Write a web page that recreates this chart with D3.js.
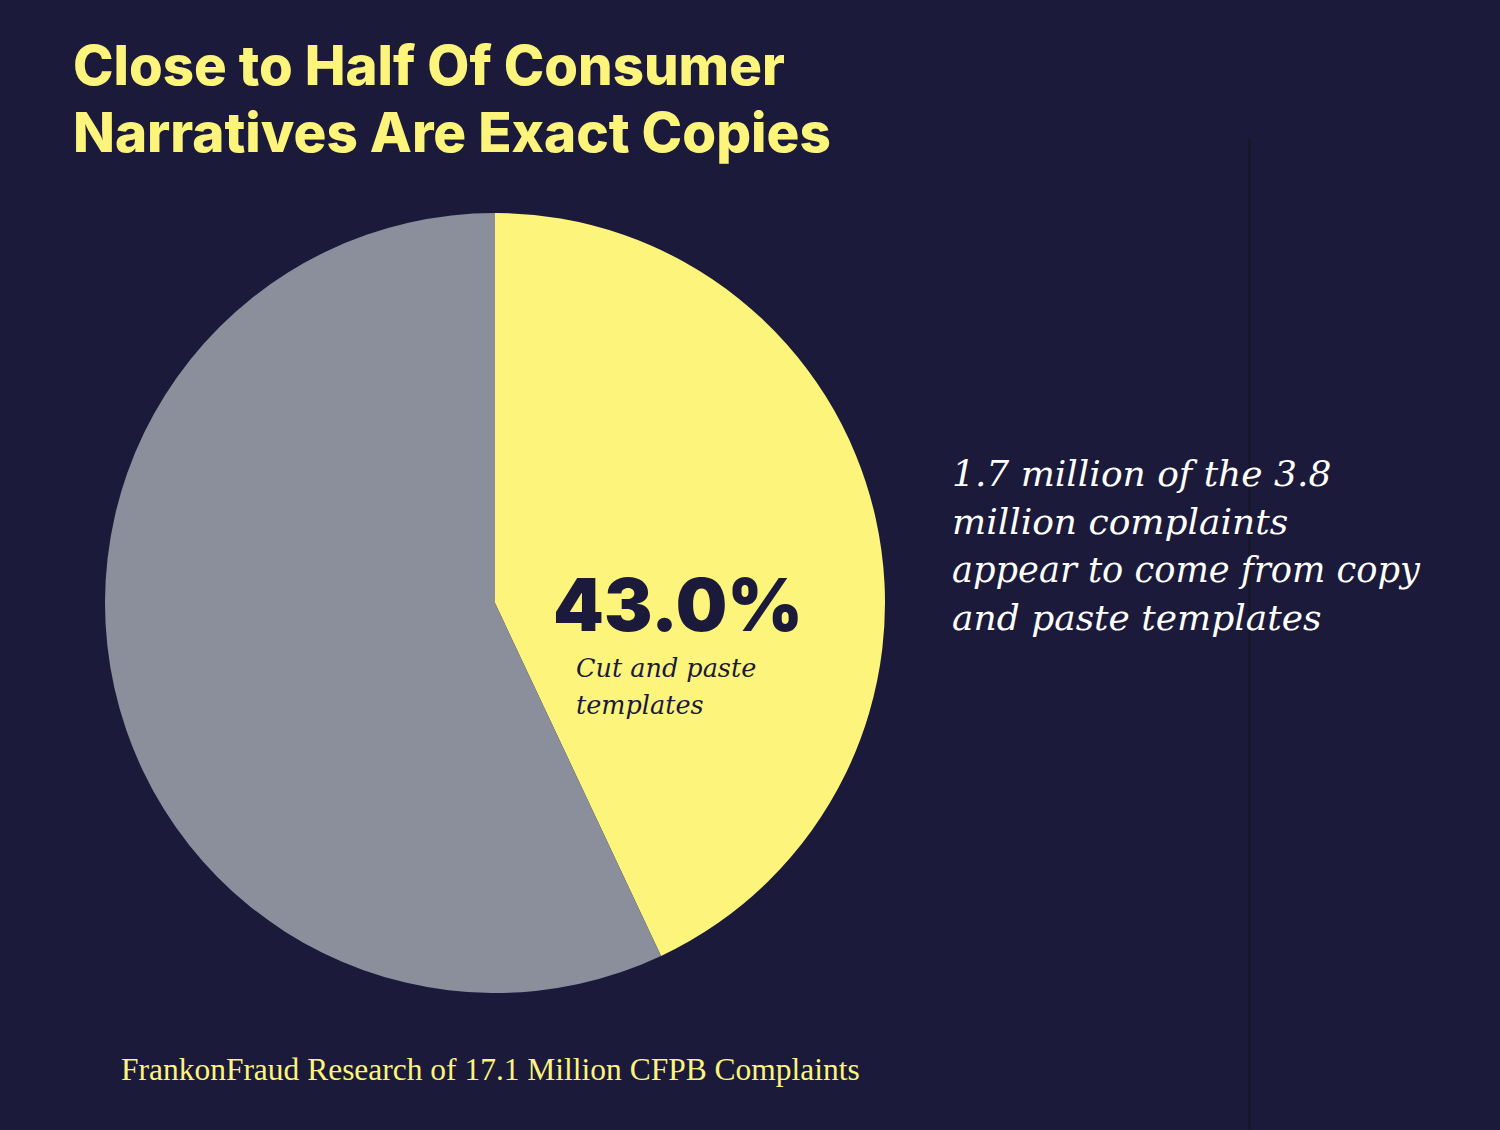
<!DOCTYPE html>
<html>
<head>
<meta charset="utf-8">
<script src="https://cdn.jsdelivr.net/npm/d3@7"></script>
<style>
  body { margin: 0; background: #1b1a3a; }
  svg { display: block; }
</style>
</head>
<body>
<div id="chart"></div>
<script>
// Data
var categories = ["Cut and paste templates", "Other narratives"];
var shares = [43.0, 57.0];
var sliceColors = ["#fdf57b", "#8b8f9c"];

var titleLines = ["Close to Half Of Consumer", "Narratives Are Exact Copies"];
var noteLines = ["1.7 million of the 3.8", "million complaints", "appear to come from copy", "and paste templates"];
var labelLines = ["Cut and paste", "templates"];
var source = "FrankonFraud Research of 17.1 Million CFPB Complaints";

var svgWidth = 1500;
var svgHeight = 1130;

var svg = d3.select("#chart")
    .append("svg")
    .attr("width", svgWidth)
    .attr("height", svgHeight);

svg.append("rect")
    .attr("width", svgWidth)
    .attr("height", svgHeight)
    .attr("fill", "#1b1a3a");

// shrink or grow a text so it spans the width seen in the picture
function fitWidth(sel, target) {
    var w = sel.node().getComputedTextLength();
    var fs = parseFloat(sel.attr("font-size"));
    sel.attr("font-size", fs * target / w);
}

// thin divider on the right
svg.append("line")
    .attr("x1", 1249.5).attr("x2", 1249.5)
    .attr("y1", 139).attr("y2", svgHeight)
    .attr("stroke", "#17171f")
    .attr("stroke-width", 2);

// title
var titleW = [712, 758];
titleLines.forEach(function(t, i) {
    var txt = svg.append("text")
        .attr("x", 73)
        .attr("y", 85 + i * 67)
        .attr("font-family", "Inter, 'Open Sans', sans-serif")
        .attr("font-weight", 800)
        .attr("font-size", 54)
        .attr("fill", "#fdf57b")
        .text(t);
    fitWidth(txt, titleW[i]);
});

// pie
var cx = 495, cy = 603, radius = 390;

var pie = d3.pie().sort(null).value(d => d);
var arc = d3.arc().innerRadius(0).outerRadius(radius);

var pieGroup = svg.append("g")
    .attr("transform", `translate(${cx}, ${cy})`);

pieGroup.selectAll("path")
    .data(pie(shares))
    .enter()
    .append("path")
    .attr("d", arc)
    .attr("fill", (d, i) => sliceColors[i]);

// big percentage in the yellow slice
var pct = svg.append("text")
    .attr("x", 553)
    .attr("y", 631)
    .attr("font-family", "Inter, 'Open Sans', sans-serif")
    .attr("font-weight", 900)
    .attr("font-size", 84)
    .attr("fill", "#1b1a3a")
    .text(d3.format(".1f")(shares[0]) + "%");
fitWidth(pct, 250);

labelLines.forEach(function(t, i) {
    svg.append("text")
        .attr("x", 576)
        .attr("y", 677 + i * 37)
        .attr("font-family", "'DejaVu Serif', serif")
        .attr("font-style", "italic")
        .attr("font-size", 25.5)
        .attr("fill", "#1b1a3a")
        .text(t);
});

// note on the right
noteLines.forEach(function(t, i) {
    var txt = svg.append("text")
        .attr("x", 952)
        .attr("y", 486 + i * 48)
        .attr("font-family", "'DejaVu Serif', serif")
        .attr("font-style", "italic")
        .attr("font-size", 36)
        .attr("fill", "#ffffff")
        .text(t);
    if (i == 2) fitWidth(txt, 468);
});

// source line
var src = svg.append("text")
    .attr("x", 121)
    .attr("y", 1080)
    .attr("font-family", "'Liberation Serif', serif")
    .attr("font-size", 32)
    .attr("fill", "#fdf57b")
    .text(source);
fitWidth(src, 739);
</script>
</body>
</html>
